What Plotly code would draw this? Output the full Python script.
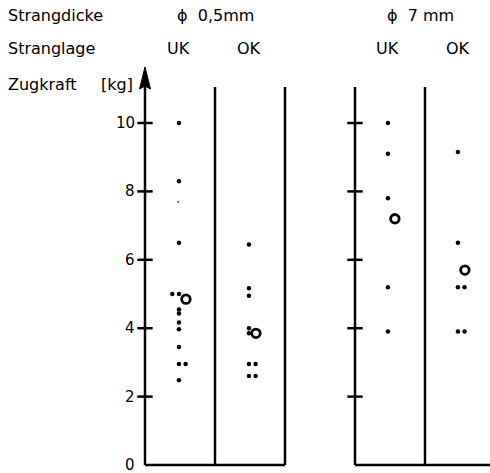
import plotly.graph_objects as go

# ---- data ----
diameters = ["ϕ  0,5mm", "ϕ  7 mm"]
positions_lbl = ["UK", "OK", "UK", "OK"]
uk_05 = [10.0, 8.3, 6.5, 5.0, 5.0, 4.55, 4.43, 4.17, 3.97, 3.45, 2.95, 2.95, 2.48]
uk_05_faint = [7.7]
ok_05 = [6.45, 5.17, 4.95, 4.0, 3.85, 2.95, 2.95, 2.6, 2.6]
uk_7 = [10.0, 9.1, 7.8, 5.2, 3.9]
ok_7 = [9.15, 6.5, 5.2, 5.2, 3.9, 3.9]
means = [4.85, 3.85, 7.2, 5.7]
ytick_vals = [0, 2, 4, 6, 8, 10]
ytick_text = ["0", "2", "4", "6", "8", "10"]

# ---- layout constants ----
W, H = 490, 473
PX_X = 70.0          # px per column unit
X0_PX = 145.0        # pixel of x=0
PX_Y = 34.2          # px per kg
Y0_PX = 465.0        # pixel of y=0
xr = [(0 - X0_PX) / PX_X, (W - X0_PX) / PX_X]
yr = [(Y0_PX - H) / PX_Y, (Y0_PX - 0) / PX_Y]
def px2x(p): return (p - X0_PX) / PX_X
def px2y(p): return (Y0_PX - p) / PX_Y

col_x = [0.485, 1.485, 3.47, 4.47]
pair_dx = 0.095
mean_dx = 0.1
TOP = px2y(87)

fig = go.Figure()

def place(vals, cx, mean):
    xs, ys = [], []
    seen = {}
    for v in vals:
        n = seen.get(v, 0)
        seen[v] = n + 1
        if n == 0:
            xs.append(cx)
        else:
            side = -1 if abs(mean - v) < 0.3 else 1
            if side < 0:
                xs[-1] = cx
                xs.append(cx - pair_dx)
            else:
                xs.append(cx + pair_dx)
        ys.append(v)
    return xs, ys

black = "#000000"
for vals, cx, m in zip([uk_05, ok_05, uk_7, ok_7], col_x, means):
    xs, ys = place(vals, cx, m)
    fig.add_trace(go.Scatter(x=xs, y=ys, mode="markers",
                             marker=dict(color=black, size=4.5), hoverinfo="skip"))
fig.add_trace(go.Scatter(x=[col_x[0] - 0.01] * len(uk_05_faint), y=uk_05_faint, mode="markers",
                         marker=dict(color="#555", size=2), hoverinfo="skip"))
# means (open circles)
fig.add_trace(go.Scatter(x=[c + mean_dx for c in col_x], y=means, mode="markers",
                         marker=dict(symbol="circle-open", color=black, size=8.5,
                                     line=dict(width=2.8, color=black)), hoverinfo="skip"))

# axis ticks (crossing) for both groups
tk = [v for v in ytick_vals if v > 0]
for ax_x in [0, 3]:
    fig.add_trace(go.Scatter(x=[ax_x] * len(tk), y=tk, mode="markers",
                             marker=dict(symbol="line-ew", size=11,
                                         line=dict(width=2.5, color=black)), hoverinfo="skip"))

# frame lines
lw = 2.5
def vline(x, y1):
    fig.add_shape(type="line", x0=x, x1=x, y0=0, y1=y1, line=dict(color=black, width=lw))
vline(0, px2y(85))
vline(1, TOP)
vline(2, TOP)
vline(3, TOP)
vline(4, TOP)
fig.add_shape(type="line", x0=0, x1=2, y0=0, y1=0, line=dict(color=black, width=lw))
fig.add_shape(type="line", x0=3, x1=xr[1], y0=0, y1=0, line=dict(color=black, width=lw))

# arrow head of the left axis (narrow, tall)
hw = 5.5 / PX_X
tip, base, notch = px2y(67), px2y(89), px2y(86)
fig.add_shape(type="path",
              path=f"M {-hw} {base} L 0 {tip} L {hw} {base} L 0 {notch} Z",
              fillcolor=black, line=dict(color=black, width=1))

font = dict(family="DejaVu Sans", size=16, color=black)
font_t = dict(family="DejaVu Sans", size=15, color=black)
ann = []
def txt(x, y, s, xa="left", f=font):
    ann.append(dict(x=x, y=y, text=s, showarrow=False, xanchor=xa, yanchor="middle",
                    font=f, xref="x", yref="y"))

# tick labels
for v, t in zip(ytick_vals, ytick_text):
    txt(px2x(137), v, t, "right", font_t)

# header
txt(px2x(6), px2y(15), "Strangdicke")
txt(px2x(6), px2y(48), "Stranglage")
txt(px2x(6), px2y(84), "Zugkraft")
txt(px2x(99), px2y(84), "[kg]")
txt(1.0, px2y(15), diameters[0], "center")
txt(3.93, px2y(15), diameters[1], "center")
for cx, s in zip(col_x, positions_lbl):
    txt(cx, px2y(48), s, "center")

fig.update_layout(
    width=W, height=H, margin=dict(l=0, r=0, t=0, b=0),
    paper_bgcolor="white", plot_bgcolor="white", showlegend=False,
    annotations=ann,
    xaxis=dict(range=xr, visible=False, fixedrange=True),
    yaxis=dict(range=yr, visible=False, fixedrange=True),
)
fig.write_html("out.html")
